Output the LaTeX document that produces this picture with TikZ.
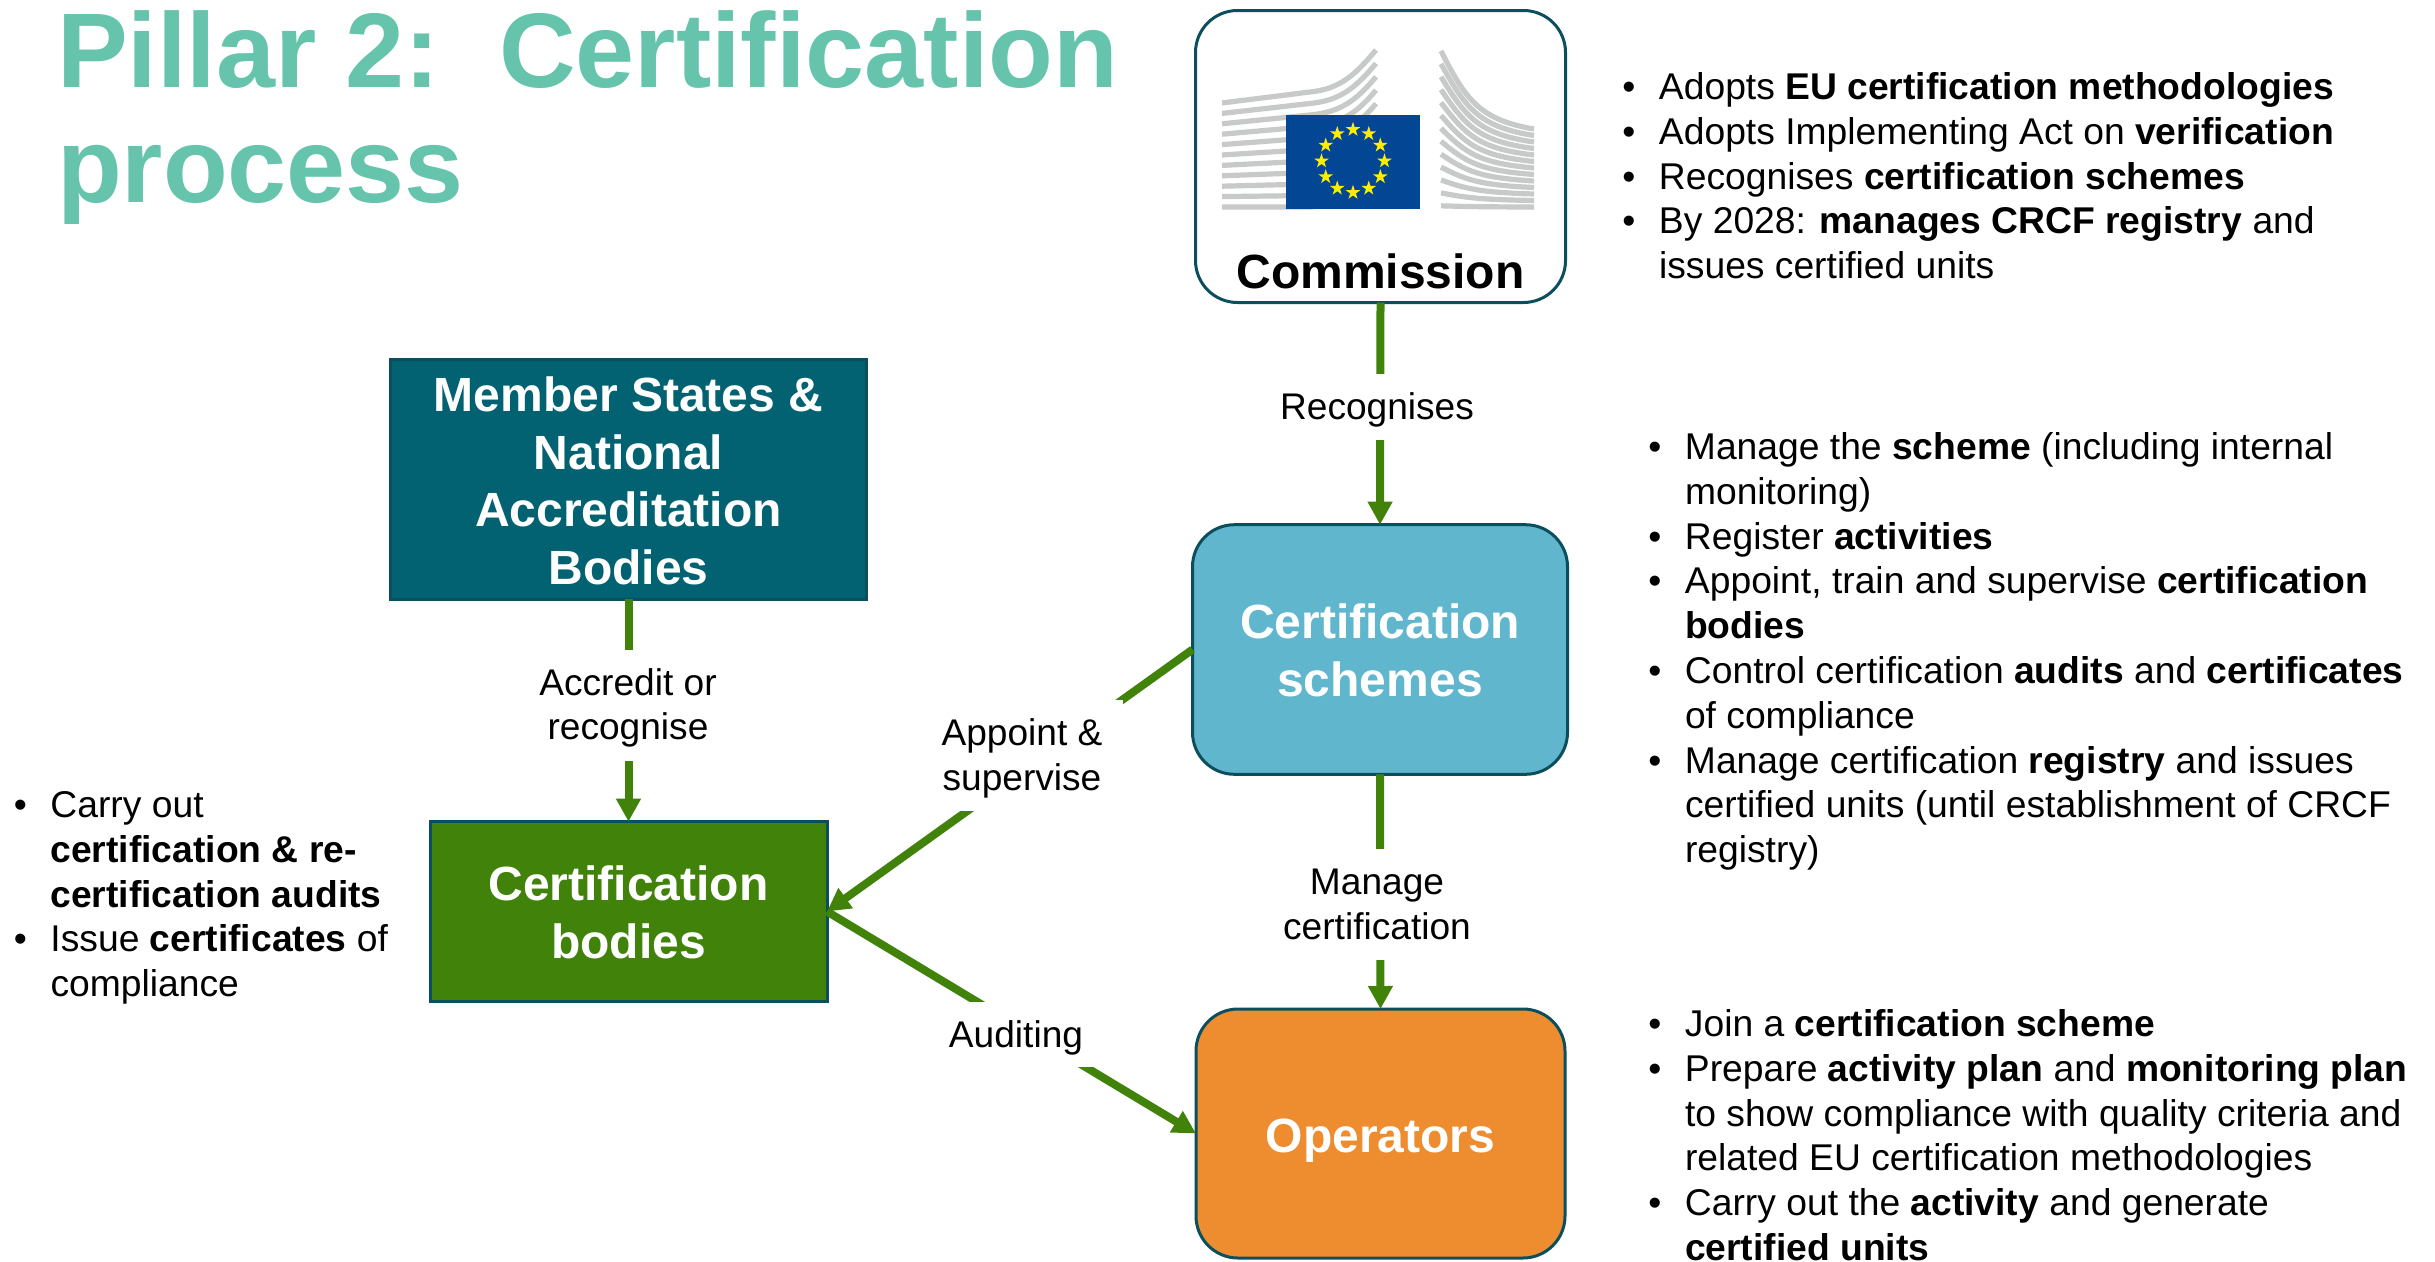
\documentclass[tikz,border=0pt]{standalone}
\usepackage{fontspec}
\setmainfont{Liberation Sans}
\usetikzlibrary{arrows.meta,shapes.geometric}
\definecolor{titlegreen}{HTML}{66C4AC}
\definecolor{edgeteal}{HTML}{0B4F5E}
\definecolor{msteal}{HTML}{026272}
\definecolor{bodygreen}{HTML}{41820B}
\definecolor{schemeblue}{HTML}{60B7CD}
\definecolor{oporange}{HTML}{EE8D30}
\definecolor{logogray}{HTML}{C8C9C9}
\definecolor{eublue}{HTML}{034694}
\definecolor{eustar}{HTML}{FFED00}
\newcommand{\tp}[1]{\rule{0pt}{#1pt}}
\newcommand{\bt}[1]{\rule[-#1pt]{0pt}{#1pt}}
\newcommand{\bl}{\llap{•\hspace{23.5pt}}}
\tikzset{
  boxbase/.style={draw=edgeteal,line width=3pt,inner sep=0pt,outer sep=0pt,align=center,text=white,
    font=\fontsize{48}{57.6}\selectfont\bfseries},
  sharpbox/.style={boxbase,rectangle},
  roundbox/.style={boxbase,rectangle,rounded corners=42pt},
  conn/.style={draw=bodygreen,line width=8pt},
  connarrow/.style={conn,-{Triangle[length=23pt,width=23.5pt]}},
  edgelabel/.style={fill=white,inner sep=0pt,outer sep=0pt,align=center,text=black,
    font=\fontsize{37.1}{44.8}\selectfont},
  bullets/.style={anchor=north west,inner sep=0pt,outer sep=0pt,align=left,text=black,
    font=\fontsize{37.25}{44.8}\selectfont},
  titletext/.style={anchor=north west,inner sep=0pt,outer sep=0pt,align=left,text=titlegreen,
    font=\fontsize{106.1}{115}\selectfont\bfseries},
  logoband/.style={draw=logogray,line width=5.2pt},
  eustarshape/.style={star,star points=5,star point ratio=2.618,minimum size=15.5pt,inner sep=0pt,fill=eustar}
}
\begin{document}
\begin{tikzpicture}[x=1pt,y=-1pt]
\useasboundingbox (0,-1.5) rectangle (2435,1259.5);

% title
\node[titletext] (title) at (57,-1) {\tp{87}Pillar 2:\ \ Certification\\process};

% boxes
\node[roundbox,fill=white,text=black,minimum width=370pt] (com) at (1380.5,155) {\tp{278}Commission\bt{14}};
\node[roundbox,fill=schemeblue,minimum width=375pt] (sch) at (1380,648) {\tp{114}Certification\\schemes\bt{78}};
\node[roundbox,fill=oporange,minimum width=369pt] (ope) at (1380.5,1132) {\tp{143}Operators\bt{106}};
\node[sharpbox,fill=msteal,minimum width=476pt] (ms) at (628.5,478) {\tp{52}Member States \&\\National\\Accreditation\\Bodies\bt{15}};
\node[sharpbox,fill=bodygreen,minimum width=397pt] (cb) at (628.5,910) {\tp{79}Certification\\bodies\bt{43}};

% logo
\begin{scope}[yshift=1.5pt]
\foreach \i in {0,...,10}{
  \pgfmathsetmacro{\yl}{103+10.4*\i}
  \pgfmathsetmacro{\yr}{50+13.4*\i}
  \pgfmathsetmacro{\ym}{\yl-11+1.1*\i}
  \draw[logoband] (1222,\yl) -- (1310,\ym) .. controls (1340,\ym-3) and (1355,\yr+25) .. (1376,\yr);
}
\foreach \i in {0,...,12}{
  \pgfmathsetmacro{\yl}{51+12.9*\i}
  \pgfmathsetmacro{\yr}{129+6.5*\i}
  \pgfmathsetmacro{\dd}{\yr-\yl}
  \draw[logoband] (1441,\yl) .. controls (1465,\yl+0.6*\dd) and (1478,\yr-0.12*\dd) .. (1534,\yr);
}
\fill[eublue] (1286,115) rectangle (1420,209);
\foreach \i in {1,...,12}{
  \node[eustarshape] (star\i) at ({1353+31.5*cos(30*\i)},{161+31.5*sin(30*\i)}) {};
}
\end{scope}

% connectors
\draw[connarrow] (com.south) -- (sch.north);
\draw[connarrow] (sch.south) -- (ope.north);
\draw[connarrow] (ms.south) -- (cb.north);
\draw[connarrow] (sch.west) -- (cb.east);
\draw[connarrow] (cb.east) -- (ope.west);

% connector labels
\node[edgelabel,minimum width=230pt] (l1) at (1377,405) {\tp{46}Recognises\bt{20}};
\node[edgelabel,minimum width=230pt] (l2) at (1377,903) {\tp{46}Manage\\certification\bt{21}};
\node[edgelabel,minimum width=230pt] (l3) at (628,704) {\tp{45}Accredit or\\recognise\bt{21}};
\node[edgelabel,minimum width=202pt] (l4) at (1022,754) {\tp{46}Appoint \&\\supervise\bt{21}};
\node[edgelabel,minimum width=153pt] (l5) at (1016,1032.5) {\tp{46}Auditing\bt{19}};

% bullet lists
\node[bullets] (t1) at (1659,58) {\tp{40}\bl Adopts \textbf{EU certification methodologies}\\
\bl Adopts Implementing Act on \textbf{verification}\\
\bl Recognises \textbf{certification schemes}\\
\bl By 2028: \textbf{manages CRCF registry} and\\
issues certified units};
\node[bullets] (t2) at (1685,418) {\tp{40}\bl Manage the \textbf{scheme} (including internal\\
monitoring)\\
\bl Register \textbf{activities}\\
\bl Appoint, train and supervise \textbf{certification}\\
\textbf{bodies}\\
\bl Control certification \textbf{audits} and \textbf{certificates}\\
of compliance\\
\bl Manage certification \textbf{registry} and issues\\
certified units (until establishment of CRCF\\
registry)};
\node[bullets] (t3) at (1685,995) {\tp{40}\bl Join a \textbf{certification scheme}\\
\bl Prepare \textbf{activity plan} and \textbf{monitoring plan}\\
to show compliance with quality criteria and\\
related EU certification methodologies\\
\bl Carry out the \textbf{activity} and generate\\
\textbf{certified units}};
\node[bullets] (t4) at (50.5,776) {\tp{40}\bl Carry out\\
\textbf{certification \& re-}\\
\textbf{certification audits}\\
\bl Issue \textbf{certificates} of\\
compliance};
\end{tikzpicture}
\end{document}
